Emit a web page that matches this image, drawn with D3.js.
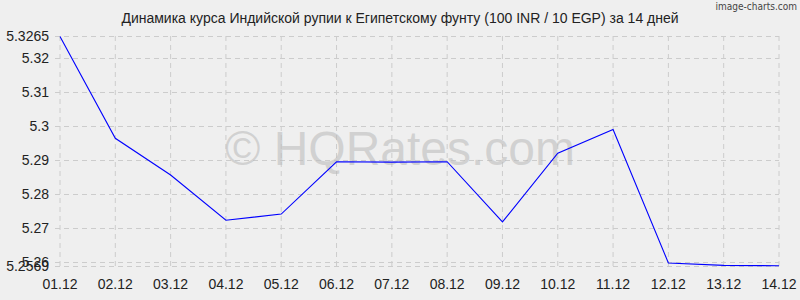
<!DOCTYPE html>
<html><head><meta charset="utf-8">
<script src="https://cdn.jsdelivr.net/npm/d3@7"></script>
<style>body{margin:0;background:#efefef}svg{display:block}</style>
</head><body><svg width="800" height="300"></svg>
<script>
const categories = ["01.12","02.12","03.12","04.12","05.12","06.12","07.12","08.12","09.12","10.12","11.12","12.12","13.12","14.12"];
const values = [5.3265,5.2965,5.2857,5.2724,5.2742,5.2896,5.2895,5.2896,5.2719,5.2921,5.2991,5.2598,5.2591,5.2590];
const yTicks = [5.26,5.27,5.28,5.29,5.30,5.31,5.32];
const yEndLabels = ["5.3265","5.2569"];
const title = "Динамика курса Индийской рупии к Египетскому фунту (100 INR / 10 EGP) за 14 дней";

const svg = d3.select("svg");
svg.append("rect").attr("width",800).attr("height",300).attr("fill","#efefef");
const x = d3.scalePoint().domain(categories).range([60,779]);
const y = d3.scaleLinear().domain([5.2590,5.3265]).range([265.7,36.4]);
const font = "'Liberation Sans', Arial, sans-serif";

// vertical grid
svg.append("g").selectAll("line").data(categories).join("line")
  .attr("x1",d=>x(d)).attr("x2",d=>x(d)).attr("y1",36).attr("y2",269)
  .attr("stroke","#cccccc").attr("stroke-dasharray","5,4").attr("stroke-width",1);
// horizontal grid
const hVals = yTicks.concat(y.domain());
svg.append("g").selectAll("line").data(hVals).join("line")
  .attr("x1",55).attr("x2",779).attr("y1",d=>Math.round(y(d))+0.5).attr("y2",d=>Math.round(y(d))+0.5)
  .attr("stroke","#cccccc").attr("stroke-dasharray","5,4").attr("stroke-width",1);

// watermark
svg.append("text").attr("x",400).attr("y",165).attr("text-anchor","middle")
  .attr("font-family",font).attr("font-size",48).attr("fill","#bdbdbd").attr("fill-opacity",0.6)
  .text("© HQRates.com");

// y labels
const yl = svg.append("g").attr("font-family",font).attr("font-size",14).attr("fill","#222").attr("text-anchor","end");
yl.selectAll("text.t").data(yTicks).join("text").attr("class","t")
  .attr("x",49).attr("y",d=>y(d)+5).text(d=>d3.format("")(+d.toFixed(4)));
yl.selectAll("text.e").data(yEndLabels).join("text").attr("class","e")
  .attr("x",49).attr("y",(d,i)=>y(y.domain()[1-i])+5).text(d=>d);

// x labels
svg.append("g").attr("font-family",font).attr("font-size",14).attr("fill","#222").attr("text-anchor","middle")
  .selectAll("text").data(categories).join("text")
  .attr("x",d=>x(d)).attr("y",289).text(d=>d);

// line
svg.append("path").datum(values)
  .attr("d",d3.line().x((d,i)=>x(categories[i])).y(d=>y(d)))
  .attr("fill","none").attr("stroke","#0000ff").attr("stroke-width",1.1);

// title
svg.append("text").attr("x",400).attr("y",23).attr("text-anchor","middle")
  .attr("font-family",font).attr("font-size",14).attr("fill","#222").text(title);
svg.append("text").attr("x",797).attr("y",10).attr("text-anchor","end")
  .attr("font-family","'DejaVu Sans Condensed', 'Liberation Sans Narrow', sans-serif").attr("font-size",10).attr("fill","#444").text("image-charts.com");
</script></body></html>
